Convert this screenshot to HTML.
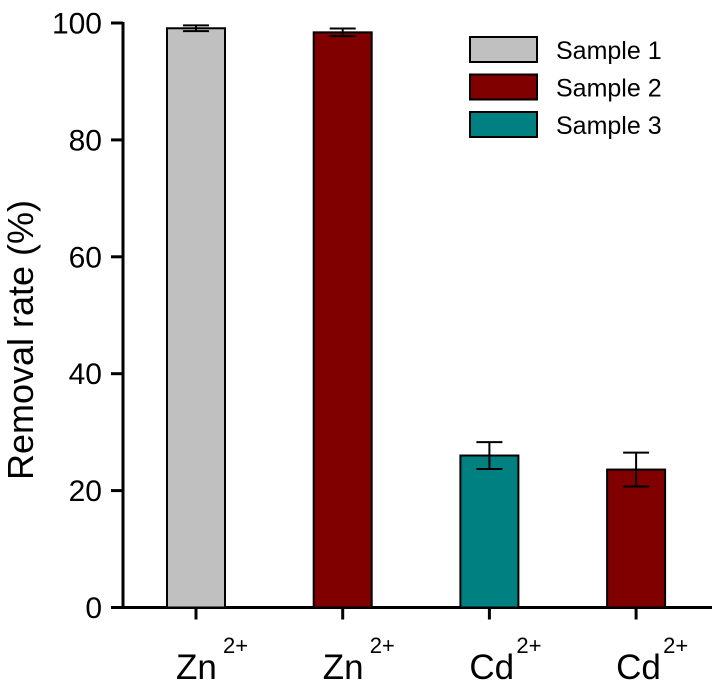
<!DOCTYPE html>
<html><head><meta charset="utf-8"><style>
body{margin:0;background:#fff;}
svg{display:block;font-family:"Liberation Sans",Arial,sans-serif;}
</style></head><body>
<svg id="chart" width="718" height="686"></svg>
<script>
const categories=["Zn","Zn","Cd","Cd"];
const superscripts=["2+","2+","2+","2+"];
const values=[99.1,98.4,26.0,23.6];
const errors=[0.5,0.65,2.3,2.9];
const seriesIdx=[0,1,2,1];
const seriesNames=["Sample 1","Sample 2","Sample 3"];
const yTicks=[0,20,40,60,80,100];
const colors=["#c0c0c0","#800000","#008080"];
const NS="http://www.w3.org/2000/svg";
const svg=document.getElementById('chart');
const y0=607.5,yTop=23,x0=123,step=146.7,firstC=196,bw=58;
const yS=v=>y0-(y0-yTop)*v/100;
const xS=i=>firstC+i*step;
function mk(t,a,p){const e=document.createElementNS(NS,t);for(const k in a)e.setAttribute(k,a[k]);(p||svg).appendChild(e);return e;}
let ya=mk('line',{x1:x0,y1:yTop-1,x2:x0,y2:y0+1.5,stroke:'#000','stroke-width':3});


let xa=mk('line',{x1:x0-1.5,y1:y0,x2:712,y2:y0,stroke:'#000','stroke-width':3});


yTicks.forEach(t=>{
 const y=yS(t);
 const l=mk('line',{x1:111,y1:y,x2:x0,y2:y,stroke:'#000','stroke-width':3});
 
 
 const tx=mk('text',{x:102,y:y+10.5,'text-anchor':'end','font-size':30});
 tx.textContent=t;
 
 
});
const yt=mk('text',{x:0,y:0,'text-anchor':'middle','font-size':36,transform:'translate(33,340) rotate(-90)'});
yt.textContent='Removal rate (%)';


values.forEach((v,i)=>{
 const cx=xS(i);
 const b=mk('rect',{x:cx-bw/2,y:yS(v),width:bw,height:y0-yS(v),fill:colors[seriesIdx[i]],stroke:'#000','stroke-width':2});
 
 
 const g=mk('g',{stroke:'#000','stroke-width':2});
 
 
 const hi=yS(v+errors[i]),lo=yS(v-errors[i]);
 mk('line',{x1:cx,y1:hi,x2:cx,y2:lo},g);
 mk('line',{x1:cx-13,y1:hi,x2:cx+13,y2:hi},g);
 mk('line',{x1:cx-13,y1:lo,x2:cx+13,y2:lo},g);
 const tk=mk('line',{x1:cx,y1:y0,x2:cx,y2:y0+12,stroke:'#000','stroke-width':3});
 
 
 const lab=mk('text',{x:cx-20,y:679,'font-size':35});
 lab.textContent=categories[i];
 
 
 const sup=mk('text',{x:cx+27,y:653,'font-size':22});
 sup.textContent=superscripts[i];
 
 
});
seriesNames.forEach((n,i)=>{
 const y=37+i*37.5;
 const r=mk('rect',{x:470,y:y,width:67,height:25,fill:colors[i],stroke:'#000','stroke-width':2});
 
 
 const t=mk('text',{x:556,y:y+22,'font-size':25});
 t.textContent=n;
 
 
});
</script>
</body></html>
